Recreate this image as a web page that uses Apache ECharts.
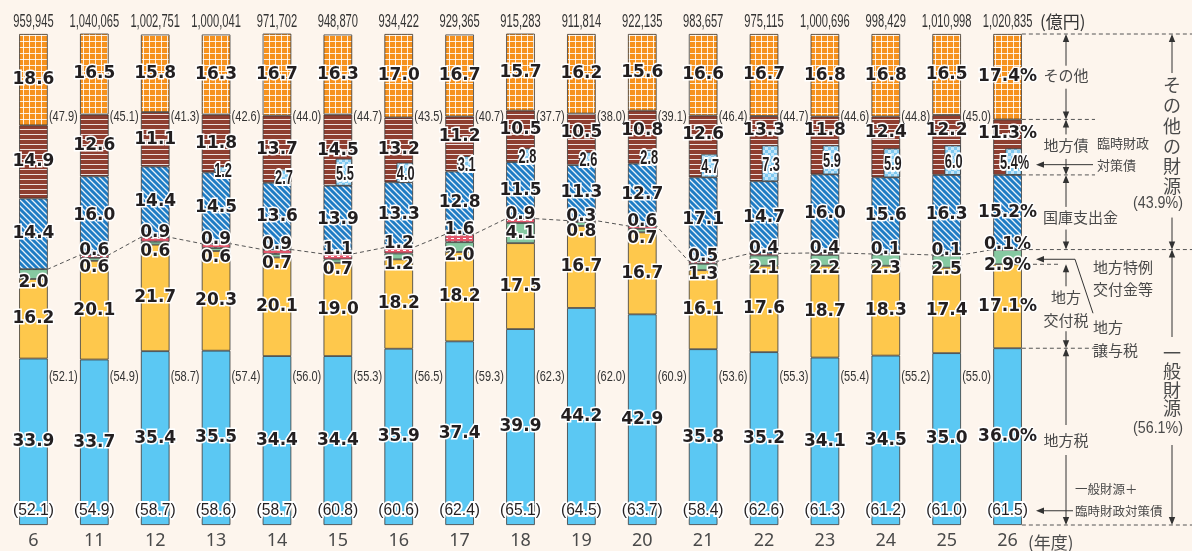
<!DOCTYPE html>
<html><head><meta charset="utf-8">
<script src="https://cdn.jsdelivr.net/npm/echarts@6/dist/echarts.min.js"></script>
<style>html,body{margin:0;padding:0;background:#fdf5ed;}#c{width:1192px;height:551px;}</style>
</head><body><div id="c"></div>
<script>
const years = ['6','11','12','13','14','15','16','17','18','19','20','21','22','23','24','25','26'];
const totals = ['959,945','1,040,065','1,002,751','1,000,041','971,702','948,870','934,422','929,365','915,283','911,814','922,135','983,657','975,115','1,000,696','998,429','1,010,998','1,020,835'];
const localTax = [33.9,33.7,35.4,35.5,34.4,34.4,35.9,37.4,39.9,44.2,42.9,35.8,35.2,34.1,34.5,35.0,36.0];
const allocTax = [16.2,20.1,21.7,20.3,20.1,19.0,18.2,18.2,17.5,16.7,16.7,16.1,17.6,18.7,18.3,17.4,17.1];
const transferTax = [2.0,0.6,0.6,0.6,0.7,0.7,1.2,2.0,4.1,0.8,0.7,1.3,2.1,2.2,2.3,2.5,2.9];
const specialGrant = [null,0.6,0.9,0.9,0.9,1.1,1.2,1.6,0.9,0.3,0.6,0.5,0.4,0.4,0.1,0.1,0.1];
const treasury = [14.4,16.0,14.4,14.5,13.6,13.9,13.3,12.8,11.5,11.3,12.7,17.1,14.7,16.0,15.6,16.3,15.2];
const localBond = [14.9,12.6,11.1,11.8,13.7,14.5,13.2,11.2,10.5,10.5,10.8,12.6,13.3,11.8,12.4,12.2,11.3];
const tempBond = [null,null,null,1.2,2.7,5.5,4.0,3.1,2.8,2.6,2.8,4.7,7.3,5.9,5.9,6.0,5.4];
const others = [18.6,16.5,15.8,16.3,16.7,16.3,17.0,16.7,15.7,16.2,15.6,16.6,16.7,16.8,16.8,16.5,17.4];
const otherSrcPct = [47.9,45.1,41.3,42.6,44.0,44.7,43.5,40.7,37.7,38.0,39.1,46.4,44.7,44.6,44.8,45.0,43.9];
const generalPct = [52.1,54.9,58.7,57.4,56.0,55.3,56.5,59.3,62.3,62.0,60.9,53.6,55.3,55.4,55.2,55.0,56.1];
const generalPlusTemp = [52.1,54.9,58.7,58.6,58.7,60.8,60.6,62.4,65.1,64.5,63.7,58.4,62.6,61.3,61.2,61.0,61.5];

// ---- layout / style constants ----
const W = 1192, H = 551;
const GRID = {left: 3, right: 154, top: 34, bottom: 26};
const PX = (H - GRID.top - GRID.bottom) / 100;
const HALF = 0.235;               // half bar width in category units
const OTHER_LABEL_Y = 83.1, GEN_LABEL_Y = 30.1, BOTTOM_LABEL_Y = 2.9;
const N = years.length, LAST = N - 1;
const NUM_FONT = 'DejaVu Sans';
const NARROW = '"Liberation Sans",sans-serif';
const JP = '"Noto Sans CJK JP",sans-serif';
const TXT = '#4a4a4a';

function pat(w, h, bg, draw) {
  const c = document.createElement('canvas'); c.width = w; c.height = h;
  const g = c.getContext('2d'); g.fillStyle = bg; g.fillRect(0, 0, w, h);
  if (draw) draw(g);
  return {image: c, repeat: 'repeat'};
}
const pOther = pat(6, 6, '#f6921e', g => { g.fillStyle = 'rgba(255,255,255,0.85)'; g.fillRect(5, 0, 1, 6); g.fillRect(0, 5, 6, 1); });
const pBond = pat(4, 5, '#8e3e30', g => { g.fillStyle = 'rgba(255,255,255,0.85)'; g.fillRect(0, 4, 4, 1); });
const pTreas = pat(6, 6, '#1f7cc4', g => { g.strokeStyle = 'rgba(255,255,255,0.9)'; g.lineWidth = 1.3; g.beginPath(); g.moveTo(-1, -1); g.lineTo(7, 7); g.moveTo(5, -1); g.lineTo(7, 1); g.moveTo(-1, 5); g.lineTo(1, 7); g.stroke(); });
const pTemp = pat(6, 6, '#7fc8f0', g => { g.fillStyle = 'rgba(255,255,255,0.55)'; g.fillRect(0, 0, 3, 3); g.fillRect(3, 3, 3, 3); });
const pSpecial = pat(6, 3, '#e2566b', g => { g.fillStyle = '#fff'; g.fillRect(1, 1, 3, 1); });

const fmt = (v, i) => (v == null ? '' : (i === LAST ? v.toFixed(1) + '%' : v.toFixed(1)));
const baseLabel = {
  show: true, position: 'inside', color: '#231f20', fontFamily: NUM_FONT, fontSize: 17, fontWeight: 'bold',
  textBorderColor: '#fff', textBorderWidth: 3,
  formatter: p => fmt(p.value === '-' ? null : p.value, p.dataIndex)
};
const border = {borderColor: '#3a3a3a', borderWidth: 0.8};
const nz = a => a.map(v => (v == null ? '-' : v));

function barSeries(name, data, color, extra) {
  return Object.assign({
    name, type: 'bar', stack: 'all', xAxisIndex: 0, yAxisIndex: 0, barWidth: '47%',
    itemStyle: Object.assign({color}, border), label: Object.assign({}, baseLabel),
    data: nz(data), z: 3
  }, extra || {});
}

const general = localTax.map((v, i) => v + allocTax[i] + transferTax[i] + (specialGrant[i] || 0));
const insetBase = general.map((g, i) => (tempBond[i] == null ? '-' : g + treasury[i]));

const transferData = transferTax.map(v => ({value: v, label: {offset: [0, v >= 4 ? 0 : 8]}}));
const bondData = localBond.map((v, i) => {
  const t = tempBond[i];
  let dy = 0;
  if (t != null && (v - t) * PX < 42) dy = -(t * PX) / 2;
  return {value: v, label: {offset: [0, dy]}};
});

const linePts = [];
general.forEach((g, i) => { linePts.push([i - HALF, g]); linePts.push([i + HALF, g]); });

// condensed text drawn through the axes (custom series); outline drawn beneath the fill
function textSeries(xAxisIndex, yAxisIndex, points, texts, o) {
  return {
    type: 'custom', xAxisIndex, yAxisIndex, silent: true, z: 6, data: points,
    renderItem: (params, api) => {
      const p = api.coord([api.value(0), api.value(1)]);
      const t = texts[params.dataIndex];
      if (t == null) return null;
      const st = {text: t, fontSize: o.fontSize, fontFamily: NARROW, fontWeight: o.fontWeight || 'normal',
                  align: o.align || 'center', verticalAlign: 'middle'};
      const children = [];
      if (o.stroke) children.push({type: 'text', style: Object.assign({}, st, {fill: o.stroke, stroke: o.stroke, lineWidth: o.lineWidth, lineJoin: 'round'})});
      children.push({type: 'text', style: Object.assign({}, st, {fill: o.color || '#333'})});
      return {type: 'group', x: p[0] + (o.dx || 0), y: p[1] + (o.dy || 0), scaleX: o.scaleX || 1, children};
    }
  };
}
const idx = a => a.map((_, i) => i);
const sidePts = y => idx(years).slice(0, LAST).map(i => [i, y]);
const paren = v => '(' + v.toFixed(1) + ')';

const option = {
  backgroundColor: '#fdf5ed',
  animation: false,
  grid: [
    {left: GRID.left, right: GRID.right, top: GRID.top, bottom: GRID.bottom},
    {left: GRID.left + 6, right: GRID.right - 6, top: GRID.top, bottom: GRID.bottom}
  ],
  xAxis: [
    {type: 'category', gridIndex: 0, data: years, axisLine: {show: false}, axisTick: {show: false},
     axisLabel: {color: TXT, fontFamily: 'Noto Sans', fontSize: 18, margin: 7}},
    {type: 'value', gridIndex: 0, min: -0.5, max: N - 0.5, show: false},
    {type: 'category', gridIndex: 1, data: years, show: false}
  ],
  yAxis: [
    {type: 'value', gridIndex: 0, min: 0, max: 100, show: false},
    {type: 'value', gridIndex: 1, min: 0, max: 100, show: false}
  ],
  series: [
    {type: 'line', xAxisIndex: 1, yAxisIndex: 0, data: linePts, symbol: 'none', z: 1, silent: true,
     lineStyle: {color: '#555', width: 1, type: [4, 3]}},
    barSeries('地方税', localTax, '#5bc8f3'),
    barSeries('地方交付税', allocTax, '#fec84c'),
    barSeries('地方譲与税', transferData, '#86c9a1'),
    barSeries('地方特例交付金等', specialGrant, pSpecial, {label: Object.assign({}, baseLabel, {position: 'top', distance: -4})}),
    barSeries('国庫支出金', treasury, pTreas),
    barSeries('地方債', bondData, pBond),
    barSeries('その他', others, pOther),
    {type: 'bar', stack: 'inset', xAxisIndex: 2, yAxisIndex: 1, barWidth: '27%', data: insetBase, silent: true,
     itemStyle: {color: 'transparent'}, z: 4},
    {name: '臨時財政対策債', type: 'bar', stack: 'inset', xAxisIndex: 2, yAxisIndex: 1, barWidth: '27%', data: nz(tempBond), z: 4,
     itemStyle: Object.assign({color: pTemp}, border)},
    // inset values
    textSeries(2, 1, tempBond.map((t, i) => [i, t == null ? 0 : insetBase[i] + t / 2]),
      tempBond.map((t, i) => (t == null ? null : fmt(t, i))),
      {fontSize: 20, fontWeight: 'bold', scaleX: 0.64, dx: 1, dy: 2, color: '#231f20', stroke: '#fff', lineWidth: 4}),
    // totals above bars
    textSeries(0, 0, idx(years).map(i => [i, 100]), totals, {fontSize: 18, scaleX: 0.62, dy: -12, color: '#333'}),
    // side values: other sources / general sources
    textSeries(0, 0, sidePts(OTHER_LABEL_Y), otherSrcPct.slice(0, LAST).map(paren),
      {fontSize: 14.5, scaleX: 0.76, dx: 15.5, align: 'left', color: '#333'}),
    textSeries(0, 0, sidePts(GEN_LABEL_Y), generalPct.slice(0, LAST).map(paren),
      {fontSize: 14.5, scaleX: 0.76, dx: 15.5, align: 'left', color: '#333'}),
    // bottom: general + temporary bonds
    textSeries(0, 0, idx(years).map(i => [i, BOTTOM_LABEL_Y]), generalPlusTemp.map(paren),
      {fontSize: 17, scaleX: 0.92, color: '#231f20', stroke: '#fff', lineWidth: 4})
  ]
};

const chart = echarts.init(document.getElementById('c'));
chart.setOption(option);

// ---- right-hand annotation, positioned from the last bar's values ----
const yv = v => chart.convertToPixel({yAxisIndex: 0}, v);
const cx = chart.convertToPixel({xAxisIndex: 0}, LAST);
const half = chart.convertToPixel({xAxisIndex: 1}, LAST + HALF) - cx;
const bR = cx + half;
const L = LAST;
const y100 = yv(100), y0 = yv(0);
const yOther = yv(100 - others[L]);
const yDebt = yv(100 - others[L] - localBond[L]);
const yGen = yv(general[L]);
const yKof = yv(localTax[L] + allocTax[L]);
const yTax = yv(localTax[L]);
const yTemp = yv(general[L] + treasury[L] + tempBond[L] / 2);
const yBottom = yv(BOTTOM_LABEL_Y);

const G = [];
const LC = '#333';
const dash = (x1, y, x2) => G.push({type: 'line', z: 50, shape: {x1, y1: y, x2, y2: y}, style: {stroke: '#555', lineWidth: 1, lineDash: [4, 3]}});
const seg = (x1, y1, x2, y2) => G.push({type: 'line', z: 50, shape: {x1, y1, x2, y2}, style: {stroke: LC, lineWidth: 1}});
const tri = pts => G.push({type: 'polygon', z: 50, shape: {points: pts}, style: {fill: LC}});
const up = (x, y) => tri([[x, y], [x - 3.2, y + 8], [x + 3.2, y + 8]]);
const down = (x, y) => tri([[x, y], [x - 3.2, y - 8], [x + 3.2, y - 8]]);
const left = (x, y) => tri([[x, y], [x + 8, y - 3.2], [x + 8, y + 3.2]]);
const text = (x, y, t, o, extra) => G.push(Object.assign({type: 'text', z: 60, x, y, style: Object.assign({text: t, x: 0, y: 0, fill: TXT, fontSize: 15, fontFamily: JP, align: 'left', verticalAlign: 'middle'}, o || {})}, extra || {}));
function vArrow(x, y1, y2, g1, g2) {
  up(x, y1); down(x, y2);
  seg(x, y1 + 2, x, g1); seg(x, g2, x, y2 - 2);
}

// dashed guides
dash(bR, y100, W);
dash(bR, yOther, 1095);
dash(bR, yDebt, 1095);
dash(bR, yGen, W);
dash(1033, yKof, 1060);
dash(bR, yTax, 1095);
dash(bR, y0, W);

const AX = 1066, FX = 1172;
vArrow(AX, y100, yOther, (y100 + yOther) / 2 - 11, (y100 + yOther) / 2 + 12);
text(AX, (y100 + yOther) / 2 - 1, 'その他', {align: 'center'});
vArrow(AX, yOther, yDebt, yOther + 15, yDebt - 16);
text(AX, (yOther + yDebt) / 2 - 2, '地方債', {align: 'center'});
vArrow(AX, yDebt, yGen, yDebt + 32, yGen - 20);
text(1043, (yDebt + yGen) / 2 + 5, '国庫支出金');
vArrow(AX, yKof, yTax, yKof + 22, yTax - 17);
text(AX, (yKof + yTax) / 2 + 3, '地方\n交付税', {align: 'center', lineHeight: 23});
vArrow(AX, yTax, y0, 425, 455);
text(AX, 440, '地方税', {align: 'center'});

// far-right brackets
up(FX, y100); seg(FX, y100 + 2, FX, 73);
text(FX, 75, 'そ\nの\n他\nの\n財\n源', {align: 'center', verticalAlign: 'top', fontSize: 18, lineHeight: 20.3});
text(1158, yGen - 46, '(' + otherSrcPct[L].toFixed(1) + '%)', {align: 'center', fontFamily: NARROW, fontSize: 17}, {scaleX: 0.84});
seg(FX, yGen - 32, FX, yGen - 2); down(FX, yGen);
up(FX, yGen); seg(FX, yGen + 2, FX, 337);
text(FX, 344, '一\n般\n財\n源', {align: 'center', verticalAlign: 'top', fontSize: 18, lineHeight: 18.3});
text(1158, 428, '(' + generalPct[L].toFixed(1) + '%)', {align: 'center', fontFamily: NARROW, fontSize: 17}, {scaleX: 0.84});
seg(FX, 445, FX, y0 - 2); down(FX, y0);

// 臨時財政対策債
text(1097, yTemp - 19, '臨時財政', {fontSize: 13});
text(1097, yTemp + 3, '対策債', {fontSize: 13});
seg(1044, yTemp + 3, 1093, yTemp + 3); left(1036, yTemp + 3);

// 地方特例交付金等 / 地方譲与税
text(1093, yGen + 18, '地方特例');
text(1093, yGen + 40, '交付金等');
text(1093, yTax - 21, '地方');
text(1093, yTax + 2, '譲与税');
G.push({type: 'polyline', z: 50, shape: {points: [[1093, yTax - 35], [1075, yKof - 5], [1044, yKof - 5]]}, style: {stroke: LC, lineWidth: 1, fill: null}});
left(1036, yKof - 5);

// 一般財源＋臨時財政対策債
text(1075, yBottom - 22, '一般財源＋', {fontSize: 12.5});
text(1075, yBottom, '臨時財政対策債', {fontSize: 12.5});
seg(1044, yBottom, 1073, yBottom); left(1036, yBottom);

// units
text(1040, y100 - 12, '(億円)', {fontSize: 17, fill: '#333'});
text(1028, 543, '(年度)', {fontSize: 17, fill: TXT});

chart.setOption({graphic: G});
</script></body></html>
